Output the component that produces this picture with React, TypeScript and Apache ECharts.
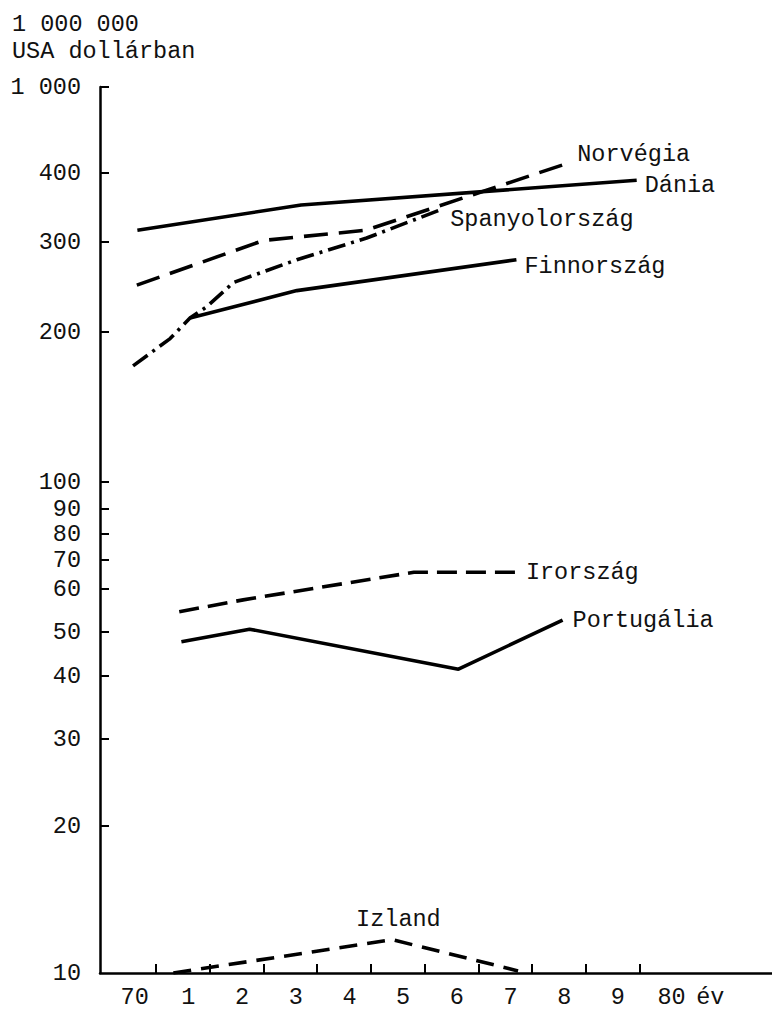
import React, { useEffect, useRef } from "react";
import * as echarts from "echarts";

// Y axis of the original is a hand-drawn, broken logarithmic scale: tick values and their heights (axis units)
const yTickValues = [10, 20, 30, 40, 50, 60, 70, 80, 90, 100, 200, 300, 400, 1000];
const yTickLabels = ["10", "20", "30", "40", "50", "60", "70", "80", "90", "100", "200", "300", "400", "1 000"];
const yTickHeights = [0, 147, 234, 297, 341, 384, 413, 439, 464, 491, 641, 731, 800, 886];

// X axis: years 1970–1980
const xTickYears = [70, 71, 72, 73, 74, 75, 76, 77, 78, 79, 80];
const xTickLabels = ["70", "1", "2", "3", "4", "5", "6", "7", "8", "9", "80"];

// Series (year, value in million USD)
const daniaYears = [70.05, 73.1, 79.35];
const daniaValues = [315, 350, 388];

const norvegiaYears = [70.04, 72.4, 74.3, 78.15];
const norvegiaValues = [247, 302, 315, 451];

const spanyolYears = [69.97, 70.66, 71.03, 71.34, 71.84, 73.02, 74.32, 75.69];
const spanyolValues = [171, 194, 213, 224, 250, 277, 305, 343];

const finnYears = [71.03, 73.02, 77.11];
const finnValues = [213, 241, 277];

const irorszagYears = [70.83, 72.02, 75.2, 77.1];
const irorszagValues = [54.5, 57.3, 65.6, 65.6];

const portugaliaYears = [70.87, 72.14, 76.03, 77.97];
const portugaliaValues = [47.6, 50.6, 41.4, 52.6];

const izlandYears = [70.72, 74.8, 77.14];
const izlandValues = [10, 11.7, 10.1];

const FONT = "'Liberation Mono', 'DejaVu Sans Mono', monospace";

function toAxis(v: number): number {
  const lv = Math.log10(v);
  for (let i = 0; i < yTickValues.length - 1; i++) {
    if (v <= yTickValues[i + 1] || i === yTickValues.length - 2) {
      const a = Math.log10(yTickValues[i]);
      const b = Math.log10(yTickValues[i + 1]);
      const t = (lv - a) / (b - a);
      return yTickHeights[i] + t * (yTickHeights[i + 1] - yTickHeights[i]);
    }
  }
  return 0;
}

function pairs(xs: number[], vs: number[]) {
  return xs.map((x, i) => [x, toAxis(vs[i])]);
}

export default function App() {
  const ref = useRef<HTMLDivElement>(null);
  useEffect(() => {
    if (!ref.current) return;
    const chart = echarts.init(ref.current, undefined, { renderer: "svg" });
    const labelStyle = { fontFamily: FONT, fontSize: 23.5, color: "#111" };
    const mk = (name: string, xs: number[], vs: number[], type: any, endOffset: number[]) => ({
      name,
      type: "line",
      data: pairs(xs, vs),
      showSymbol: false,
      symbol: "none",
      lineStyle: { color: "#000", width: 3.6, type, cap: "butt" },
      endLabel: { show: true, formatter: name, distance: 0, offset: endOffset, ...labelStyle, align: "left", verticalAlign: "middle" },
      z: 3,
    });

    const peak = izlandValues.indexOf(Math.max(...izlandValues));
    const izlandData = pairs(izlandYears, izlandValues).map((p, i) =>
      i === peak
        ? { value: p, label: { show: true, position: "top", distance: 8, offset: [6, 0], formatter: "Izland", ...labelStyle } }
        : { value: p, label: { show: false } }
    );

    chart.setOption({
      animation: false,
      backgroundColor: "#fff",
      title: {
        text: "1 000 000\nUSA dollárban",
        left: 7,
        top: 6,
        textStyle: { fontFamily: FONT, fontSize: 23.5, fontWeight: "normal", color: "#111", lineHeight: 27 },
      },
      grid: { left: 100, top: 87, right: 0, bottom: 36 },
      xAxis: {
        type: "value",
        min: 69.354,
        max: 81.87,
        splitLine: { show: false },
        axisLine: { show: true, lineStyle: { color: "#000", width: 2.5 } },
        axisTick: {
          show: true,
          inside: true,
          length: 9,
          customValues: xTickYears.slice(0, 10).map((y) => y + 0.4),
          lineStyle: { color: "#000", width: 2 },
        },
        axisLabel: {
          customValues: [...xTickYears, 80.72],
          formatter: (v: number) => {
            const i = xTickYears.findIndex((y) => Math.abs(y - v) < 0.01);
            return i >= 0 ? xTickLabels[i] : "év";
          },
          margin: 12,
          ...labelStyle,
        },
      },
      yAxis: {
        type: "value",
        min: 0,
        max: 886,
        splitLine: { show: false },
        axisLine: { show: true, lineStyle: { color: "#000", width: 2.5 } },
        axisTick: {
          show: true,
          inside: true,
          length: 9,
          customValues: yTickHeights.slice(1),
          lineStyle: { color: "#000", width: 2 },
        },
        axisLabel: {
          customValues: yTickHeights,
          formatter: (v: number) => {
            let best = 0;
            yTickHeights.forEach((h, i) => {
              if (Math.abs(h - v) < Math.abs(yTickHeights[best] - v)) best = i;
            });
            return yTickLabels[best];
          },
          margin: 19,
          ...labelStyle,
        },
      },
      series: [
        mk("Norvégia", norvegiaYears, norvegiaValues, [24, 11], [5, -7]),
        mk("Dánia", daniaYears, daniaValues, "solid", [8, 5]),
        mk("Spanyolország", spanyolYears, spanyolValues, [18, 6, 3, 6], [10, 10]),
        mk("Finnország", finnYears, finnValues, "solid", [8, 7]),
        mk("Irország", irorszagYears, irorszagValues, [20, 9], [10, 0]),
        mk("Portugália", portugaliaYears, portugaliaValues, "solid", [10, 0]),
        {
          name: "Izland",
          type: "line",
          data: izlandData,
          showSymbol: true,
          symbol: "circle",
          symbolSize: 0,
          itemStyle: { color: "#000" },
          lineStyle: { color: "#000", width: 3.6, type: [18, 10] },
          z: 3,
        },
      ],
    });
    return () => chart.dispose();
  }, []);
  return <div ref={ref} style={{ position: "fixed", left: 0, top: 0, width: 772, height: 1009, background: "#fff" }} />;
}
